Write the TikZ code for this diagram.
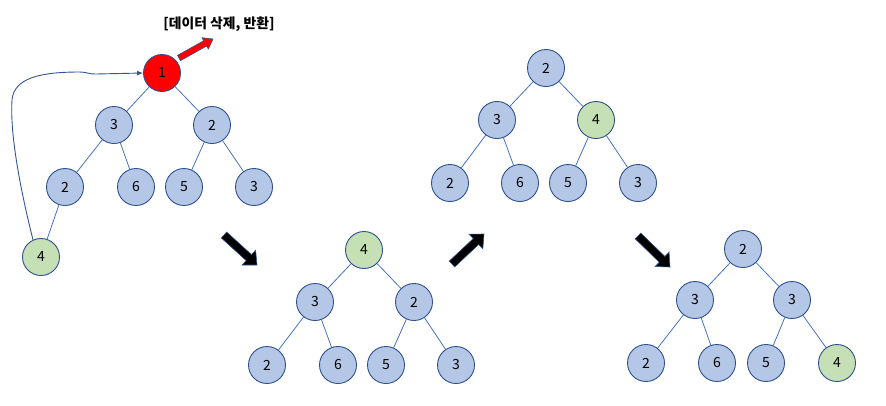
\documentclass[tikz,border=0pt]{standalone}
\usepackage{fontspec}
\newfontfamily\kr{Noto Sans CJK KR}
\usetikzlibrary{calc,arrows.meta}
\definecolor{nodeblue}{HTML}{B4C7E7}
\definecolor{nodegreen}{HTML}{C5E0B4}
\definecolor{nodeborder}{HTML}{2F528F}
\definecolor{edgeblue}{HTML}{4472C4}
\tikzset{
  hnode/.style={circle,draw=nodeborder,line width=0.9pt,fill=nodeblue,minimum size=37pt,inner sep=0pt,font=\kr\fontsize{14}{16}\selectfont},
  gnode/.style={hnode,fill=nodegreen},
  rnode/.style={hnode,fill=red},
  edge/.style={draw=edgeblue,line width=0.8pt},
  conn/.style={draw=nodeborder!90!edgeblue,line width=0.9pt},
  blk/.style={fill=black,draw=nodeborder,line width=0.6pt,line join=miter},
  redblk/.style={fill=red,draw=nodeborder,line width=0.6pt,line join=miter},
}
% \blockarrow[style]{tail}{tip}{half shaft}{half head}{head length}
\newcommand{\blockarrow}[6][blk]{%
  \coordinate (ba-H) at ($(#3)!#6!(#2)$);
  \path[#1] ($(#2)!#4!90:(#3)$) -- ($(ba-H)!#4!90:(#3)$) -- ($(ba-H)!#5!90:(#3)$) -- (#3)
     -- ($(ba-H)!#5!-90:(#3)$) -- ($(ba-H)!#4!-90:(#3)$) -- ($(#2)!#4!-90:(#3)$) -- cycle;
}
\begin{document}
\begin{tikzpicture}[x=1pt,y=-1pt]
\useasboundingbox (0,0) rectangle (886,405);
% Tree 1
\node[rnode] (a1) at (162,73) {1};
\node[hnode] (a2) at (114,125) {3};
\node[hnode] (a3) at (212,125) {2};
\node[hnode] (a4) at (65,187) {2};
\node[hnode] (a5) at (136,187) {6};
\node[hnode] (a6) at (184,187) {5};
\node[hnode] (a7) at (254,187) {3};
\node[gnode] (a8) at (41,257) {4};
\draw[edge] (a1)--(a2) (a1)--(a3) (a2)--(a4) (a2)--(a5) (a3)--(a6) (a3)--(a7) (a4)--(a8);
\draw[conn,-{Latex[length=6pt,width=5pt]}] (a8.115) .. controls (18,180) and (10,130) .. (12,100)
  .. controls (14,78) and (40,72) .. (80,72) .. controls (86,72) and (88,74) .. (96,74) -- (a1.west);
% red arrow and label
\coordinate (ra-t) at (179,58);
\coordinate (ra-p) at (213,39);
\blockarrow[redblk]{ra-t}{ra-p}{3pt}{6.5pt}{9pt}
\node[font=\kr\bfseries\fontsize{13.8}{16}\selectfont,inner sep=0pt] (lbl) at (219,24) {[데이터 삭제, 반환]};
% Tree 2
\node[gnode] (b1) at (364,250) {4};
\node[hnode] (b2) at (315,302) {3};
\node[hnode] (b3) at (414,302) {2};
\node[hnode] (b4) at (267,365) {2};
\node[hnode] (b5) at (338,365) {6};
\node[hnode] (b6) at (386,365) {5};
\node[hnode] (b7) at (456,365) {3};
\draw[edge] (b1)--(b2) (b1)--(b3) (b2)--(b4) (b2)--(b5) (b3)--(b6) (b3)--(b7);
% Tree 3
\node[hnode] (c1) at (546,68) {2};
\node[hnode] (c2) at (497,120) {3};
\node[gnode] (c3) at (596,120) {4};
\node[hnode] (c4) at (450,183) {2};
\node[hnode] (c5) at (520,183) {6};
\node[hnode] (c6) at (568,183) {5};
\node[hnode] (c7) at (638,183) {3};
\draw[edge] (c1)--(c2) (c1)--(c3) (c2)--(c4) (c2)--(c5) (c3)--(c6) (c3)--(c7);
% Tree 4
\node[hnode] (d1) at (743,249) {2};
\node[hnode] (d2) at (695,300) {3};
\node[hnode] (d3) at (792,300) {3};
\node[hnode] (d4) at (646,363) {2};
\node[hnode] (d5) at (717,363) {6};
\node[hnode] (d6) at (766,363) {5};
\node[gnode] (d7) at (837,363) {4};
\draw[edge] (d1)--(d2) (d1)--(d3) (d2)--(d4) (d2)--(d5) (d3)--(d6) (d3)--(d7);
% black block arrows
\coordinate (k1t) at (224,235); \coordinate (k1p) at (257,265);
\coordinate (k2t) at (452,264); \coordinate (k2p) at (484,234);
\coordinate (k3t) at (638,236); \coordinate (k3p) at (670,267);
\blockarrow{k1t}{k1p}{4pt}{10pt}{11pt}
\blockarrow{k2t}{k2p}{4pt}{10pt}{11pt}
\blockarrow{k3t}{k3p}{4pt}{10pt}{11pt}
\end{tikzpicture}
\end{document}
